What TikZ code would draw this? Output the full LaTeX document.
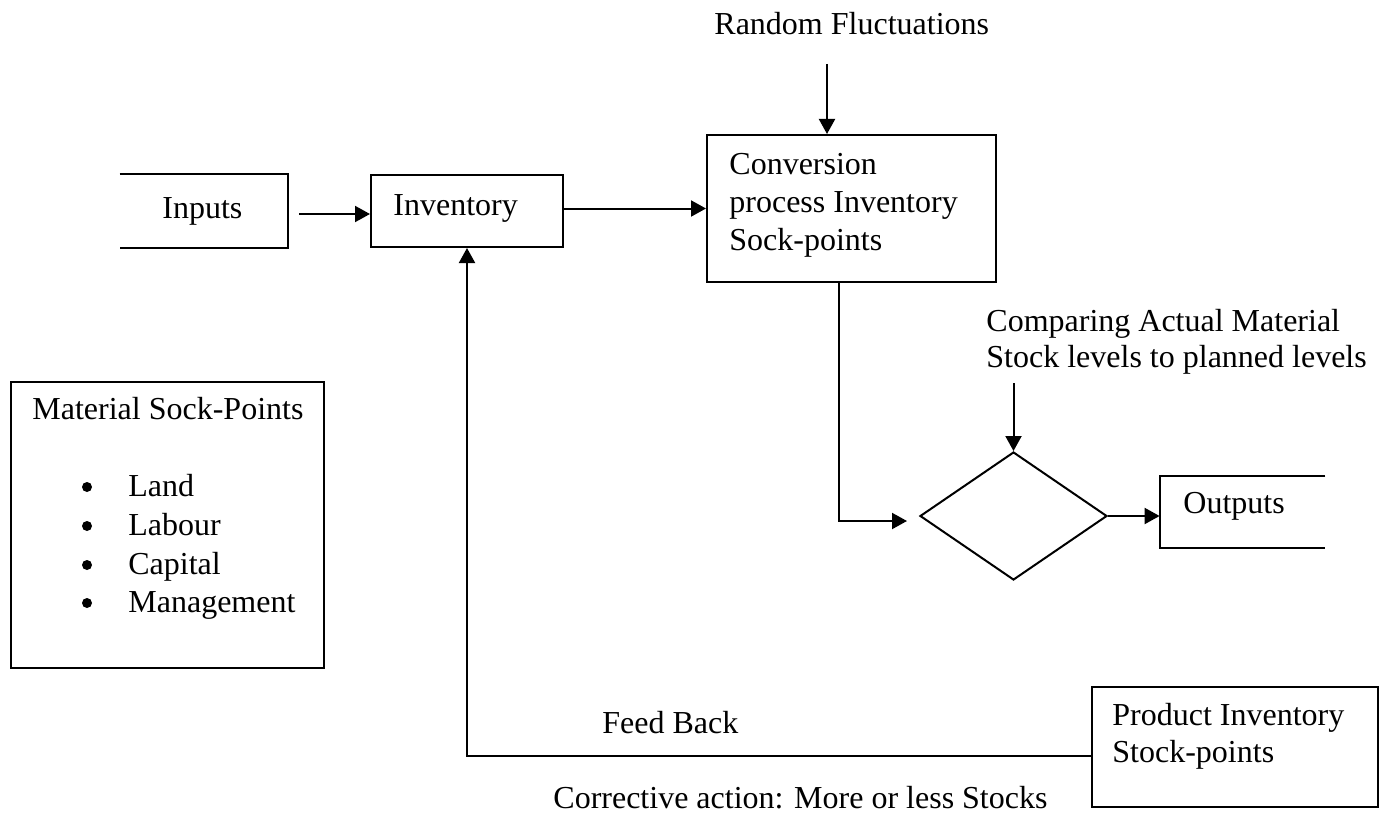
\documentclass[tikz,border=0pt]{standalone}
\usepackage{fontspec}
\setmainfont{Liberation Serif}
\usetikzlibrary{shapes.geometric,arrows.meta}
\begin{document}
\begin{tikzpicture}[x=0.5pt,y=-0.5pt,
  every node/.style={font=\fontsize{16}{18.5}\selectfont},
  box/.style={draw,line width=1pt,rectangle,inner sep=0pt},
  area/.style={rectangle,inner sep=0pt},
  txt/.style={anchor=base west,inner sep=0pt},
  dot/.style={circle,fill,inner sep=0pt,minimum size=5pt},
  arr/.style={line width=1pt,-{Triangle[length=7.5pt,width=8pt]}},
  plain/.style={line width=1pt}]
\useasboundingbox (0,0) rectangle (1387,813);

% boxes
\node[area,minimum width=84pt,minimum height=37pt] (inputs) at (204,211) {};
\draw[plain] (inputs.north west) -- (inputs.north east) -- (inputs.south east) -- (inputs.south west);
\node[box,minimum width=96pt,minimum height=36pt] (inv) at (467,211) {};
\node[box,minimum width=144.5pt,minimum height=73.5pt] (conv) at (851.5,208.5) {};
\node[draw,line width=1pt,diamond,inner sep=0pt,minimum width=93.5pt,minimum height=64pt] (dm) at (1013.5,516) {};
\node[area,minimum width=82.5pt,minimum height=36pt] (outputs) at (1242.5,512) {};
\draw[plain] (outputs.north east) -- (outputs.north west) -- (outputs.south west) -- (outputs.south east);
\node[box,minimum width=156.5pt,minimum height=143pt] (mat) at (167.5,525) {};
\node[box,minimum width=143pt,minimum height=60pt] (prod) at (1235,747) {};

% texts
\node[txt] (t-rf) at (714,35) {Random Fluctuations};
\node[txt] (t-in) at (162,219) {Inputs};
\node[txt] (t-inv) at (393,215) {Inventory};
\node[txt] (t-c1) at (729,175) {Conversion};
\node[txt] (t-c2) at (729,213) {process Inventory};
\node[txt] (t-c3) at (729,250) {Sock-points};
\node[txt] (t-cmp1) at (986,331) {Comparing Actual Material};
\node[txt] (t-cmp2) at (986,367) {Stock levels to planned levels};
\node[txt] (t-out) at (1183,513) {Outputs};
\node[txt] (t-mat) at (32,419) {Material Sock-Points};
\node[dot] (b1) at (87,487) {};
\node[dot] (b2) at (87,526) {};
\node[dot] (b3) at (87,565) {};
\node[dot] (b4) at (87,603) {};
\node[txt] (t-l1) at (128,496) {Land};
\node[txt] (t-l2) at (128,535) {Labour};
\node[txt] (t-l3) at (128,574) {Capital};
\node[txt] (t-l4) at (128,612) {Management};
\node[txt] (t-fb) at (602,733) {Feed Back};
\node[txt] (t-ca) at (553,808) {Corrective action: More or less Stocks};
\node[txt] (t-p1) at (1112,725) {Product Inventory};
\node[txt] (t-p2) at (1112,762) {Stock-points};

% connectors
\draw[arr] ([xshift=5.5pt,yshift=-1.5pt]inputs.east) -- ([yshift=-1.5pt]inv.west);
\draw[arr] (inv.east |- conv.west) -- (conv.west);
\draw[arr] ([xshift=-12.25pt,yshift=35pt]conv.north) -- ([xshift=-12.25pt]conv.north);
\draw[arr] ([xshift=-6.25pt]conv.south) |- ([xshift=-6pt,yshift=-2.5pt]dm.west);
\draw[arr] ([yshift=34pt]dm.north) -- (dm.north);
\draw[arr] (dm.east) -- (dm.east -| outputs.west);
\draw[arr] ([yshift=-4.5pt]prod.west) -| (inv.south);
\end{tikzpicture}
\end{document}
